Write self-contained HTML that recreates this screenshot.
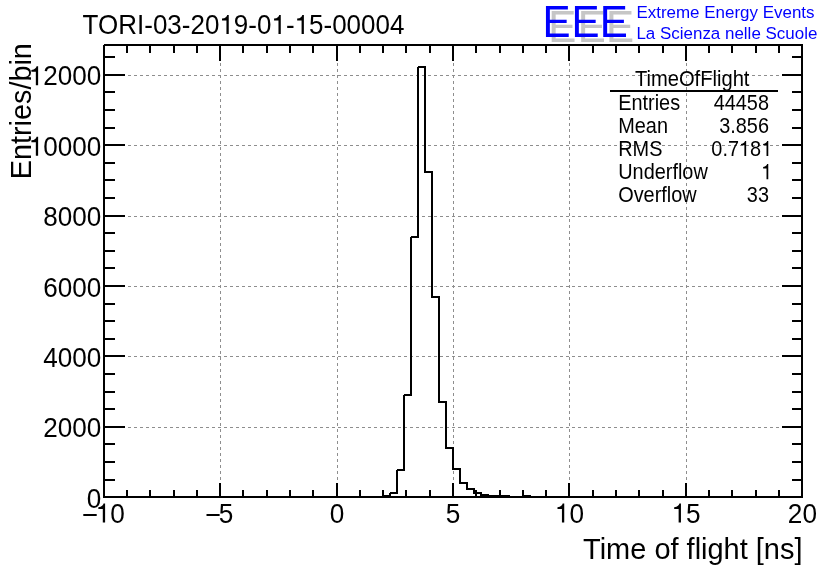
<!DOCTYPE html>
<html><head><meta charset="utf-8"><style>
html,body{margin:0;padding:0;background:#fff;width:836px;height:572px;overflow:hidden}
svg{display:block}
text{font-family:"Liberation Sans",sans-serif}
</style></head><body>
<div style="will-change:transform;width:836px;height:572px"><svg width="836" height="572" viewBox="0 0 836 572">
<path shape-rendering="crispEdges" fill="#8e8e8e" d="M220 45h1v3h-1zM220 51h1v3h-1zM220 57h1v3h-1zM220 63h1v3h-1zM220 69h1v3h-1zM220 75h1v3h-1zM220 81h1v3h-1zM220 87h1v3h-1zM220 93h1v3h-1zM220 99h1v3h-1zM220 105h1v3h-1zM220 111h1v3h-1zM220 117h1v3h-1zM220 123h1v3h-1zM220 129h1v3h-1zM220 135h1v3h-1zM220 141h1v3h-1zM220 147h1v3h-1zM220 153h1v3h-1zM220 159h1v3h-1zM220 165h1v3h-1zM220 171h1v3h-1zM220 177h1v3h-1zM220 183h1v3h-1zM220 189h1v3h-1zM220 195h1v3h-1zM220 201h1v3h-1zM220 207h1v3h-1zM220 213h1v3h-1zM220 219h1v3h-1zM220 225h1v3h-1zM220 231h1v3h-1zM220 237h1v3h-1zM220 243h1v3h-1zM220 249h1v3h-1zM220 255h1v3h-1zM220 261h1v3h-1zM220 267h1v3h-1zM220 273h1v3h-1zM220 279h1v3h-1zM220 285h1v3h-1zM220 291h1v3h-1zM220 297h1v3h-1zM220 303h1v3h-1zM220 309h1v3h-1zM220 315h1v3h-1zM220 321h1v3h-1zM220 327h1v3h-1zM220 333h1v3h-1zM220 339h1v3h-1zM220 345h1v3h-1zM220 351h1v3h-1zM220 357h1v3h-1zM220 363h1v3h-1zM220 369h1v3h-1zM220 375h1v3h-1zM220 381h1v3h-1zM220 387h1v3h-1zM220 393h1v3h-1zM220 399h1v3h-1zM220 405h1v3h-1zM220 411h1v3h-1zM220 417h1v3h-1zM220 423h1v3h-1zM220 429h1v3h-1zM220 435h1v3h-1zM220 441h1v3h-1zM220 447h1v3h-1zM220 453h1v3h-1zM220 459h1v3h-1zM220 465h1v3h-1zM220 471h1v3h-1zM220 477h1v3h-1zM220 483h1v3h-1zM220 489h1v3h-1zM220 495h1v2h-1zM337 45h1v3h-1zM337 51h1v3h-1zM337 57h1v3h-1zM337 63h1v3h-1zM337 69h1v3h-1zM337 75h1v3h-1zM337 81h1v3h-1zM337 87h1v3h-1zM337 93h1v3h-1zM337 99h1v3h-1zM337 105h1v3h-1zM337 111h1v3h-1zM337 117h1v3h-1zM337 123h1v3h-1zM337 129h1v3h-1zM337 135h1v3h-1zM337 141h1v3h-1zM337 147h1v3h-1zM337 153h1v3h-1zM337 159h1v3h-1zM337 165h1v3h-1zM337 171h1v3h-1zM337 177h1v3h-1zM337 183h1v3h-1zM337 189h1v3h-1zM337 195h1v3h-1zM337 201h1v3h-1zM337 207h1v3h-1zM337 213h1v3h-1zM337 219h1v3h-1zM337 225h1v3h-1zM337 231h1v3h-1zM337 237h1v3h-1zM337 243h1v3h-1zM337 249h1v3h-1zM337 255h1v3h-1zM337 261h1v3h-1zM337 267h1v3h-1zM337 273h1v3h-1zM337 279h1v3h-1zM337 285h1v3h-1zM337 291h1v3h-1zM337 297h1v3h-1zM337 303h1v3h-1zM337 309h1v3h-1zM337 315h1v3h-1zM337 321h1v3h-1zM337 327h1v3h-1zM337 333h1v3h-1zM337 339h1v3h-1zM337 345h1v3h-1zM337 351h1v3h-1zM337 357h1v3h-1zM337 363h1v3h-1zM337 369h1v3h-1zM337 375h1v3h-1zM337 381h1v3h-1zM337 387h1v3h-1zM337 393h1v3h-1zM337 399h1v3h-1zM337 405h1v3h-1zM337 411h1v3h-1zM337 417h1v3h-1zM337 423h1v3h-1zM337 429h1v3h-1zM337 435h1v3h-1zM337 441h1v3h-1zM337 447h1v3h-1zM337 453h1v3h-1zM337 459h1v3h-1zM337 465h1v3h-1zM337 471h1v3h-1zM337 477h1v3h-1zM337 483h1v3h-1zM337 489h1v3h-1zM337 495h1v2h-1zM453 45h1v3h-1zM453 51h1v3h-1zM453 57h1v3h-1zM453 63h1v3h-1zM453 69h1v3h-1zM453 75h1v3h-1zM453 81h1v3h-1zM453 87h1v3h-1zM453 93h1v3h-1zM453 99h1v3h-1zM453 105h1v3h-1zM453 111h1v3h-1zM453 117h1v3h-1zM453 123h1v3h-1zM453 129h1v3h-1zM453 135h1v3h-1zM453 141h1v3h-1zM453 147h1v3h-1zM453 153h1v3h-1zM453 159h1v3h-1zM453 165h1v3h-1zM453 171h1v3h-1zM453 177h1v3h-1zM453 183h1v3h-1zM453 189h1v3h-1zM453 195h1v3h-1zM453 201h1v3h-1zM453 207h1v3h-1zM453 213h1v3h-1zM453 219h1v3h-1zM453 225h1v3h-1zM453 231h1v3h-1zM453 237h1v3h-1zM453 243h1v3h-1zM453 249h1v3h-1zM453 255h1v3h-1zM453 261h1v3h-1zM453 267h1v3h-1zM453 273h1v3h-1zM453 279h1v3h-1zM453 285h1v3h-1zM453 291h1v3h-1zM453 297h1v3h-1zM453 303h1v3h-1zM453 309h1v3h-1zM453 315h1v3h-1zM453 321h1v3h-1zM453 327h1v3h-1zM453 333h1v3h-1zM453 339h1v3h-1zM453 345h1v3h-1zM453 351h1v3h-1zM453 357h1v3h-1zM453 363h1v3h-1zM453 369h1v3h-1zM453 375h1v3h-1zM453 381h1v3h-1zM453 387h1v3h-1zM453 393h1v3h-1zM453 399h1v3h-1zM453 405h1v3h-1zM453 411h1v3h-1zM453 417h1v3h-1zM453 423h1v3h-1zM453 429h1v3h-1zM453 435h1v3h-1zM453 441h1v3h-1zM453 447h1v3h-1zM453 453h1v3h-1zM453 459h1v3h-1zM453 465h1v3h-1zM453 471h1v3h-1zM453 477h1v3h-1zM453 483h1v3h-1zM453 489h1v3h-1zM453 495h1v2h-1zM569 45h1v3h-1zM569 51h1v3h-1zM569 57h1v3h-1zM569 63h1v3h-1zM569 69h1v3h-1zM569 75h1v3h-1zM569 81h1v3h-1zM569 87h1v3h-1zM569 93h1v3h-1zM569 99h1v3h-1zM569 105h1v3h-1zM569 111h1v3h-1zM569 117h1v3h-1zM569 123h1v3h-1zM569 129h1v3h-1zM569 135h1v3h-1zM569 141h1v3h-1zM569 147h1v3h-1zM569 153h1v3h-1zM569 159h1v3h-1zM569 165h1v3h-1zM569 171h1v3h-1zM569 177h1v3h-1zM569 183h1v3h-1zM569 189h1v3h-1zM569 195h1v3h-1zM569 201h1v3h-1zM569 207h1v3h-1zM569 213h1v3h-1zM569 219h1v3h-1zM569 225h1v3h-1zM569 231h1v3h-1zM569 237h1v3h-1zM569 243h1v3h-1zM569 249h1v3h-1zM569 255h1v3h-1zM569 261h1v3h-1zM569 267h1v3h-1zM569 273h1v3h-1zM569 279h1v3h-1zM569 285h1v3h-1zM569 291h1v3h-1zM569 297h1v3h-1zM569 303h1v3h-1zM569 309h1v3h-1zM569 315h1v3h-1zM569 321h1v3h-1zM569 327h1v3h-1zM569 333h1v3h-1zM569 339h1v3h-1zM569 345h1v3h-1zM569 351h1v3h-1zM569 357h1v3h-1zM569 363h1v3h-1zM569 369h1v3h-1zM569 375h1v3h-1zM569 381h1v3h-1zM569 387h1v3h-1zM569 393h1v3h-1zM569 399h1v3h-1zM569 405h1v3h-1zM569 411h1v3h-1zM569 417h1v3h-1zM569 423h1v3h-1zM569 429h1v3h-1zM569 435h1v3h-1zM569 441h1v3h-1zM569 447h1v3h-1zM569 453h1v3h-1zM569 459h1v3h-1zM569 465h1v3h-1zM569 471h1v3h-1zM569 477h1v3h-1zM569 483h1v3h-1zM569 489h1v3h-1zM569 495h1v2h-1zM686 45h1v3h-1zM686 51h1v3h-1zM686 57h1v3h-1zM686 63h1v3h-1zM686 69h1v3h-1zM686 75h1v3h-1zM686 81h1v3h-1zM686 87h1v3h-1zM686 93h1v3h-1zM686 99h1v3h-1zM686 105h1v3h-1zM686 111h1v3h-1zM686 117h1v3h-1zM686 123h1v3h-1zM686 129h1v3h-1zM686 135h1v3h-1zM686 141h1v3h-1zM686 147h1v3h-1zM686 153h1v3h-1zM686 159h1v3h-1zM686 165h1v3h-1zM686 171h1v3h-1zM686 177h1v3h-1zM686 183h1v3h-1zM686 189h1v3h-1zM686 195h1v3h-1zM686 201h1v3h-1zM686 207h1v3h-1zM686 213h1v3h-1zM686 219h1v3h-1zM686 225h1v3h-1zM686 231h1v3h-1zM686 237h1v3h-1zM686 243h1v3h-1zM686 249h1v3h-1zM686 255h1v3h-1zM686 261h1v3h-1zM686 267h1v3h-1zM686 273h1v3h-1zM686 279h1v3h-1zM686 285h1v3h-1zM686 291h1v3h-1zM686 297h1v3h-1zM686 303h1v3h-1zM686 309h1v3h-1zM686 315h1v3h-1zM686 321h1v3h-1zM686 327h1v3h-1zM686 333h1v3h-1zM686 339h1v3h-1zM686 345h1v3h-1zM686 351h1v3h-1zM686 357h1v3h-1zM686 363h1v3h-1zM686 369h1v3h-1zM686 375h1v3h-1zM686 381h1v3h-1zM686 387h1v3h-1zM686 393h1v3h-1zM686 399h1v3h-1zM686 405h1v3h-1zM686 411h1v3h-1zM686 417h1v3h-1zM686 423h1v3h-1zM686 429h1v3h-1zM686 435h1v3h-1zM686 441h1v3h-1zM686 447h1v3h-1zM686 453h1v3h-1zM686 459h1v3h-1zM686 465h1v3h-1zM686 471h1v3h-1zM686 477h1v3h-1zM686 483h1v3h-1zM686 489h1v3h-1zM686 495h1v2h-1zM104 427h3v1h-3zM110 427h3v1h-3zM116 427h3v1h-3zM122 427h3v1h-3zM128 427h3v1h-3zM134 427h3v1h-3zM140 427h3v1h-3zM146 427h3v1h-3zM152 427h3v1h-3zM158 427h3v1h-3zM164 427h3v1h-3zM170 427h3v1h-3zM176 427h3v1h-3zM182 427h3v1h-3zM188 427h3v1h-3zM194 427h3v1h-3zM200 427h3v1h-3zM206 427h3v1h-3zM212 427h3v1h-3zM218 427h3v1h-3zM224 427h3v1h-3zM230 427h3v1h-3zM236 427h3v1h-3zM242 427h3v1h-3zM248 427h3v1h-3zM254 427h3v1h-3zM260 427h3v1h-3zM266 427h3v1h-3zM272 427h3v1h-3zM278 427h3v1h-3zM284 427h3v1h-3zM290 427h3v1h-3zM296 427h3v1h-3zM302 427h3v1h-3zM308 427h3v1h-3zM314 427h3v1h-3zM320 427h3v1h-3zM326 427h3v1h-3zM332 427h3v1h-3zM338 427h3v1h-3zM344 427h3v1h-3zM350 427h3v1h-3zM356 427h3v1h-3zM362 427h3v1h-3zM368 427h3v1h-3zM374 427h3v1h-3zM380 427h3v1h-3zM386 427h3v1h-3zM392 427h3v1h-3zM398 427h3v1h-3zM404 427h3v1h-3zM410 427h3v1h-3zM416 427h3v1h-3zM422 427h3v1h-3zM428 427h3v1h-3zM434 427h3v1h-3zM440 427h3v1h-3zM446 427h3v1h-3zM452 427h3v1h-3zM458 427h3v1h-3zM464 427h3v1h-3zM470 427h3v1h-3zM476 427h3v1h-3zM482 427h3v1h-3zM488 427h3v1h-3zM494 427h3v1h-3zM500 427h3v1h-3zM506 427h3v1h-3zM512 427h3v1h-3zM518 427h3v1h-3zM524 427h3v1h-3zM530 427h3v1h-3zM536 427h3v1h-3zM542 427h3v1h-3zM548 427h3v1h-3zM554 427h3v1h-3zM560 427h3v1h-3zM566 427h3v1h-3zM572 427h3v1h-3zM578 427h3v1h-3zM584 427h3v1h-3zM590 427h3v1h-3zM596 427h3v1h-3zM602 427h3v1h-3zM608 427h3v1h-3zM614 427h3v1h-3zM620 427h3v1h-3zM626 427h3v1h-3zM632 427h3v1h-3zM638 427h3v1h-3zM644 427h3v1h-3zM650 427h3v1h-3zM656 427h3v1h-3zM662 427h3v1h-3zM668 427h3v1h-3zM674 427h3v1h-3zM680 427h3v1h-3zM686 427h3v1h-3zM692 427h3v1h-3zM698 427h3v1h-3zM704 427h3v1h-3zM710 427h3v1h-3zM716 427h3v1h-3zM722 427h3v1h-3zM728 427h3v1h-3zM734 427h3v1h-3zM740 427h3v1h-3zM746 427h3v1h-3zM752 427h3v1h-3zM758 427h3v1h-3zM764 427h3v1h-3zM770 427h3v1h-3zM776 427h3v1h-3zM782 427h3v1h-3zM788 427h3v1h-3zM794 427h3v1h-3zM800 427h2v1h-2zM104 356h3v1h-3zM110 356h3v1h-3zM116 356h3v1h-3zM122 356h3v1h-3zM128 356h3v1h-3zM134 356h3v1h-3zM140 356h3v1h-3zM146 356h3v1h-3zM152 356h3v1h-3zM158 356h3v1h-3zM164 356h3v1h-3zM170 356h3v1h-3zM176 356h3v1h-3zM182 356h3v1h-3zM188 356h3v1h-3zM194 356h3v1h-3zM200 356h3v1h-3zM206 356h3v1h-3zM212 356h3v1h-3zM218 356h3v1h-3zM224 356h3v1h-3zM230 356h3v1h-3zM236 356h3v1h-3zM242 356h3v1h-3zM248 356h3v1h-3zM254 356h3v1h-3zM260 356h3v1h-3zM266 356h3v1h-3zM272 356h3v1h-3zM278 356h3v1h-3zM284 356h3v1h-3zM290 356h3v1h-3zM296 356h3v1h-3zM302 356h3v1h-3zM308 356h3v1h-3zM314 356h3v1h-3zM320 356h3v1h-3zM326 356h3v1h-3zM332 356h3v1h-3zM338 356h3v1h-3zM344 356h3v1h-3zM350 356h3v1h-3zM356 356h3v1h-3zM362 356h3v1h-3zM368 356h3v1h-3zM374 356h3v1h-3zM380 356h3v1h-3zM386 356h3v1h-3zM392 356h3v1h-3zM398 356h3v1h-3zM404 356h3v1h-3zM410 356h3v1h-3zM416 356h3v1h-3zM422 356h3v1h-3zM428 356h3v1h-3zM434 356h3v1h-3zM440 356h3v1h-3zM446 356h3v1h-3zM452 356h3v1h-3zM458 356h3v1h-3zM464 356h3v1h-3zM470 356h3v1h-3zM476 356h3v1h-3zM482 356h3v1h-3zM488 356h3v1h-3zM494 356h3v1h-3zM500 356h3v1h-3zM506 356h3v1h-3zM512 356h3v1h-3zM518 356h3v1h-3zM524 356h3v1h-3zM530 356h3v1h-3zM536 356h3v1h-3zM542 356h3v1h-3zM548 356h3v1h-3zM554 356h3v1h-3zM560 356h3v1h-3zM566 356h3v1h-3zM572 356h3v1h-3zM578 356h3v1h-3zM584 356h3v1h-3zM590 356h3v1h-3zM596 356h3v1h-3zM602 356h3v1h-3zM608 356h3v1h-3zM614 356h3v1h-3zM620 356h3v1h-3zM626 356h3v1h-3zM632 356h3v1h-3zM638 356h3v1h-3zM644 356h3v1h-3zM650 356h3v1h-3zM656 356h3v1h-3zM662 356h3v1h-3zM668 356h3v1h-3zM674 356h3v1h-3zM680 356h3v1h-3zM686 356h3v1h-3zM692 356h3v1h-3zM698 356h3v1h-3zM704 356h3v1h-3zM710 356h3v1h-3zM716 356h3v1h-3zM722 356h3v1h-3zM728 356h3v1h-3zM734 356h3v1h-3zM740 356h3v1h-3zM746 356h3v1h-3zM752 356h3v1h-3zM758 356h3v1h-3zM764 356h3v1h-3zM770 356h3v1h-3zM776 356h3v1h-3zM782 356h3v1h-3zM788 356h3v1h-3zM794 356h3v1h-3zM800 356h2v1h-2zM104 286h3v1h-3zM110 286h3v1h-3zM116 286h3v1h-3zM122 286h3v1h-3zM128 286h3v1h-3zM134 286h3v1h-3zM140 286h3v1h-3zM146 286h3v1h-3zM152 286h3v1h-3zM158 286h3v1h-3zM164 286h3v1h-3zM170 286h3v1h-3zM176 286h3v1h-3zM182 286h3v1h-3zM188 286h3v1h-3zM194 286h3v1h-3zM200 286h3v1h-3zM206 286h3v1h-3zM212 286h3v1h-3zM218 286h3v1h-3zM224 286h3v1h-3zM230 286h3v1h-3zM236 286h3v1h-3zM242 286h3v1h-3zM248 286h3v1h-3zM254 286h3v1h-3zM260 286h3v1h-3zM266 286h3v1h-3zM272 286h3v1h-3zM278 286h3v1h-3zM284 286h3v1h-3zM290 286h3v1h-3zM296 286h3v1h-3zM302 286h3v1h-3zM308 286h3v1h-3zM314 286h3v1h-3zM320 286h3v1h-3zM326 286h3v1h-3zM332 286h3v1h-3zM338 286h3v1h-3zM344 286h3v1h-3zM350 286h3v1h-3zM356 286h3v1h-3zM362 286h3v1h-3zM368 286h3v1h-3zM374 286h3v1h-3zM380 286h3v1h-3zM386 286h3v1h-3zM392 286h3v1h-3zM398 286h3v1h-3zM404 286h3v1h-3zM410 286h3v1h-3zM416 286h3v1h-3zM422 286h3v1h-3zM428 286h3v1h-3zM434 286h3v1h-3zM440 286h3v1h-3zM446 286h3v1h-3zM452 286h3v1h-3zM458 286h3v1h-3zM464 286h3v1h-3zM470 286h3v1h-3zM476 286h3v1h-3zM482 286h3v1h-3zM488 286h3v1h-3zM494 286h3v1h-3zM500 286h3v1h-3zM506 286h3v1h-3zM512 286h3v1h-3zM518 286h3v1h-3zM524 286h3v1h-3zM530 286h3v1h-3zM536 286h3v1h-3zM542 286h3v1h-3zM548 286h3v1h-3zM554 286h3v1h-3zM560 286h3v1h-3zM566 286h3v1h-3zM572 286h3v1h-3zM578 286h3v1h-3zM584 286h3v1h-3zM590 286h3v1h-3zM596 286h3v1h-3zM602 286h3v1h-3zM608 286h3v1h-3zM614 286h3v1h-3zM620 286h3v1h-3zM626 286h3v1h-3zM632 286h3v1h-3zM638 286h3v1h-3zM644 286h3v1h-3zM650 286h3v1h-3zM656 286h3v1h-3zM662 286h3v1h-3zM668 286h3v1h-3zM674 286h3v1h-3zM680 286h3v1h-3zM686 286h3v1h-3zM692 286h3v1h-3zM698 286h3v1h-3zM704 286h3v1h-3zM710 286h3v1h-3zM716 286h3v1h-3zM722 286h3v1h-3zM728 286h3v1h-3zM734 286h3v1h-3zM740 286h3v1h-3zM746 286h3v1h-3zM752 286h3v1h-3zM758 286h3v1h-3zM764 286h3v1h-3zM770 286h3v1h-3zM776 286h3v1h-3zM782 286h3v1h-3zM788 286h3v1h-3zM794 286h3v1h-3zM800 286h2v1h-2zM104 216h3v1h-3zM110 216h3v1h-3zM116 216h3v1h-3zM122 216h3v1h-3zM128 216h3v1h-3zM134 216h3v1h-3zM140 216h3v1h-3zM146 216h3v1h-3zM152 216h3v1h-3zM158 216h3v1h-3zM164 216h3v1h-3zM170 216h3v1h-3zM176 216h3v1h-3zM182 216h3v1h-3zM188 216h3v1h-3zM194 216h3v1h-3zM200 216h3v1h-3zM206 216h3v1h-3zM212 216h3v1h-3zM218 216h3v1h-3zM224 216h3v1h-3zM230 216h3v1h-3zM236 216h3v1h-3zM242 216h3v1h-3zM248 216h3v1h-3zM254 216h3v1h-3zM260 216h3v1h-3zM266 216h3v1h-3zM272 216h3v1h-3zM278 216h3v1h-3zM284 216h3v1h-3zM290 216h3v1h-3zM296 216h3v1h-3zM302 216h3v1h-3zM308 216h3v1h-3zM314 216h3v1h-3zM320 216h3v1h-3zM326 216h3v1h-3zM332 216h3v1h-3zM338 216h3v1h-3zM344 216h3v1h-3zM350 216h3v1h-3zM356 216h3v1h-3zM362 216h3v1h-3zM368 216h3v1h-3zM374 216h3v1h-3zM380 216h3v1h-3zM386 216h3v1h-3zM392 216h3v1h-3zM398 216h3v1h-3zM404 216h3v1h-3zM410 216h3v1h-3zM416 216h3v1h-3zM422 216h3v1h-3zM428 216h3v1h-3zM434 216h3v1h-3zM440 216h3v1h-3zM446 216h3v1h-3zM452 216h3v1h-3zM458 216h3v1h-3zM464 216h3v1h-3zM470 216h3v1h-3zM476 216h3v1h-3zM482 216h3v1h-3zM488 216h3v1h-3zM494 216h3v1h-3zM500 216h3v1h-3zM506 216h3v1h-3zM512 216h3v1h-3zM518 216h3v1h-3zM524 216h3v1h-3zM530 216h3v1h-3zM536 216h3v1h-3zM542 216h3v1h-3zM548 216h3v1h-3zM554 216h3v1h-3zM560 216h3v1h-3zM566 216h3v1h-3zM572 216h3v1h-3zM578 216h3v1h-3zM584 216h3v1h-3zM590 216h3v1h-3zM596 216h3v1h-3zM602 216h3v1h-3zM608 216h3v1h-3zM614 216h3v1h-3zM620 216h3v1h-3zM626 216h3v1h-3zM632 216h3v1h-3zM638 216h3v1h-3zM644 216h3v1h-3zM650 216h3v1h-3zM656 216h3v1h-3zM662 216h3v1h-3zM668 216h3v1h-3zM674 216h3v1h-3zM680 216h3v1h-3zM686 216h3v1h-3zM692 216h3v1h-3zM698 216h3v1h-3zM704 216h3v1h-3zM710 216h3v1h-3zM716 216h3v1h-3zM722 216h3v1h-3zM728 216h3v1h-3zM734 216h3v1h-3zM740 216h3v1h-3zM746 216h3v1h-3zM752 216h3v1h-3zM758 216h3v1h-3zM764 216h3v1h-3zM770 216h3v1h-3zM776 216h3v1h-3zM782 216h3v1h-3zM788 216h3v1h-3zM794 216h3v1h-3zM800 216h2v1h-2zM104 145h3v1h-3zM110 145h3v1h-3zM116 145h3v1h-3zM122 145h3v1h-3zM128 145h3v1h-3zM134 145h3v1h-3zM140 145h3v1h-3zM146 145h3v1h-3zM152 145h3v1h-3zM158 145h3v1h-3zM164 145h3v1h-3zM170 145h3v1h-3zM176 145h3v1h-3zM182 145h3v1h-3zM188 145h3v1h-3zM194 145h3v1h-3zM200 145h3v1h-3zM206 145h3v1h-3zM212 145h3v1h-3zM218 145h3v1h-3zM224 145h3v1h-3zM230 145h3v1h-3zM236 145h3v1h-3zM242 145h3v1h-3zM248 145h3v1h-3zM254 145h3v1h-3zM260 145h3v1h-3zM266 145h3v1h-3zM272 145h3v1h-3zM278 145h3v1h-3zM284 145h3v1h-3zM290 145h3v1h-3zM296 145h3v1h-3zM302 145h3v1h-3zM308 145h3v1h-3zM314 145h3v1h-3zM320 145h3v1h-3zM326 145h3v1h-3zM332 145h3v1h-3zM338 145h3v1h-3zM344 145h3v1h-3zM350 145h3v1h-3zM356 145h3v1h-3zM362 145h3v1h-3zM368 145h3v1h-3zM374 145h3v1h-3zM380 145h3v1h-3zM386 145h3v1h-3zM392 145h3v1h-3zM398 145h3v1h-3zM404 145h3v1h-3zM410 145h3v1h-3zM416 145h3v1h-3zM422 145h3v1h-3zM428 145h3v1h-3zM434 145h3v1h-3zM440 145h3v1h-3zM446 145h3v1h-3zM452 145h3v1h-3zM458 145h3v1h-3zM464 145h3v1h-3zM470 145h3v1h-3zM476 145h3v1h-3zM482 145h3v1h-3zM488 145h3v1h-3zM494 145h3v1h-3zM500 145h3v1h-3zM506 145h3v1h-3zM512 145h3v1h-3zM518 145h3v1h-3zM524 145h3v1h-3zM530 145h3v1h-3zM536 145h3v1h-3zM542 145h3v1h-3zM548 145h3v1h-3zM554 145h3v1h-3zM560 145h3v1h-3zM566 145h3v1h-3zM572 145h3v1h-3zM578 145h3v1h-3zM584 145h3v1h-3zM590 145h3v1h-3zM596 145h3v1h-3zM602 145h3v1h-3zM608 145h3v1h-3zM614 145h3v1h-3zM620 145h3v1h-3zM626 145h3v1h-3zM632 145h3v1h-3zM638 145h3v1h-3zM644 145h3v1h-3zM650 145h3v1h-3zM656 145h3v1h-3zM662 145h3v1h-3zM668 145h3v1h-3zM674 145h3v1h-3zM680 145h3v1h-3zM686 145h3v1h-3zM692 145h3v1h-3zM698 145h3v1h-3zM704 145h3v1h-3zM710 145h3v1h-3zM716 145h3v1h-3zM722 145h3v1h-3zM728 145h3v1h-3zM734 145h3v1h-3zM740 145h3v1h-3zM746 145h3v1h-3zM752 145h3v1h-3zM758 145h3v1h-3zM764 145h3v1h-3zM770 145h3v1h-3zM776 145h3v1h-3zM782 145h3v1h-3zM788 145h3v1h-3zM794 145h3v1h-3zM800 145h2v1h-2zM104 75h3v1h-3zM110 75h3v1h-3zM116 75h3v1h-3zM122 75h3v1h-3zM128 75h3v1h-3zM134 75h3v1h-3zM140 75h3v1h-3zM146 75h3v1h-3zM152 75h3v1h-3zM158 75h3v1h-3zM164 75h3v1h-3zM170 75h3v1h-3zM176 75h3v1h-3zM182 75h3v1h-3zM188 75h3v1h-3zM194 75h3v1h-3zM200 75h3v1h-3zM206 75h3v1h-3zM212 75h3v1h-3zM218 75h3v1h-3zM224 75h3v1h-3zM230 75h3v1h-3zM236 75h3v1h-3zM242 75h3v1h-3zM248 75h3v1h-3zM254 75h3v1h-3zM260 75h3v1h-3zM266 75h3v1h-3zM272 75h3v1h-3zM278 75h3v1h-3zM284 75h3v1h-3zM290 75h3v1h-3zM296 75h3v1h-3zM302 75h3v1h-3zM308 75h3v1h-3zM314 75h3v1h-3zM320 75h3v1h-3zM326 75h3v1h-3zM332 75h3v1h-3zM338 75h3v1h-3zM344 75h3v1h-3zM350 75h3v1h-3zM356 75h3v1h-3zM362 75h3v1h-3zM368 75h3v1h-3zM374 75h3v1h-3zM380 75h3v1h-3zM386 75h3v1h-3zM392 75h3v1h-3zM398 75h3v1h-3zM404 75h3v1h-3zM410 75h3v1h-3zM416 75h3v1h-3zM422 75h3v1h-3zM428 75h3v1h-3zM434 75h3v1h-3zM440 75h3v1h-3zM446 75h3v1h-3zM452 75h3v1h-3zM458 75h3v1h-3zM464 75h3v1h-3zM470 75h3v1h-3zM476 75h3v1h-3zM482 75h3v1h-3zM488 75h3v1h-3zM494 75h3v1h-3zM500 75h3v1h-3zM506 75h3v1h-3zM512 75h3v1h-3zM518 75h3v1h-3zM524 75h3v1h-3zM530 75h3v1h-3zM536 75h3v1h-3zM542 75h3v1h-3zM548 75h3v1h-3zM554 75h3v1h-3zM560 75h3v1h-3zM566 75h3v1h-3zM572 75h3v1h-3zM578 75h3v1h-3zM584 75h3v1h-3zM590 75h3v1h-3zM596 75h3v1h-3zM602 75h3v1h-3zM608 75h3v1h-3zM614 75h3v1h-3zM620 75h3v1h-3zM626 75h3v1h-3zM632 75h3v1h-3zM638 75h3v1h-3zM644 75h3v1h-3zM650 75h3v1h-3zM656 75h3v1h-3zM662 75h3v1h-3zM668 75h3v1h-3zM674 75h3v1h-3zM680 75h3v1h-3zM686 75h3v1h-3zM692 75h3v1h-3zM698 75h3v1h-3zM704 75h3v1h-3zM710 75h3v1h-3zM716 75h3v1h-3zM722 75h3v1h-3zM728 75h3v1h-3zM734 75h3v1h-3zM740 75h3v1h-3zM746 75h3v1h-3zM752 75h3v1h-3zM758 75h3v1h-3zM764 75h3v1h-3zM770 75h3v1h-3zM776 75h3v1h-3zM782 75h3v1h-3zM788 75h3v1h-3zM794 75h3v1h-3zM800 75h2v1h-2z"/>
<path shape-rendering="crispEdges" fill="#000" d="M104 44h699v2h-699zM801 45h2v453h-2zM104 496h699v2h-699zM103 45h2v453h-2zM103 483h2v15h-2zM103 45h2v16h-2zM126 490h2v8h-2zM126 45h2v8h-2zM149 490h2v8h-2zM149 45h2v8h-2zM173 490h2v8h-2zM173 45h2v8h-2zM196 490h2v8h-2zM196 45h2v8h-2zM219 483h2v15h-2zM219 45h2v16h-2zM242 490h2v8h-2zM242 45h2v8h-2zM266 490h2v8h-2zM266 45h2v8h-2zM289 490h2v8h-2zM289 45h2v8h-2zM312 490h2v8h-2zM312 45h2v8h-2zM336 483h2v15h-2zM336 45h2v16h-2zM359 490h2v8h-2zM359 45h2v8h-2zM382 490h2v8h-2zM382 45h2v8h-2zM405 490h2v8h-2zM405 45h2v8h-2zM429 490h2v8h-2zM429 45h2v8h-2zM452 483h2v15h-2zM452 45h2v16h-2zM475 490h2v8h-2zM475 45h2v8h-2zM499 490h2v8h-2zM499 45h2v8h-2zM522 490h2v8h-2zM522 45h2v8h-2zM545 490h2v8h-2zM545 45h2v8h-2zM568 483h2v15h-2zM568 45h2v16h-2zM592 490h2v8h-2zM592 45h2v8h-2zM615 490h2v8h-2zM615 45h2v8h-2zM638 490h2v8h-2zM638 45h2v8h-2zM662 490h2v8h-2zM662 45h2v8h-2zM685 483h2v15h-2zM685 45h2v16h-2zM708 490h2v8h-2zM708 45h2v8h-2zM731 490h2v8h-2zM731 45h2v8h-2zM755 490h2v8h-2zM755 45h2v8h-2zM778 490h2v8h-2zM778 45h2v8h-2zM801 483h2v15h-2zM801 45h2v16h-2zM104 496h21v2h-21zM782 496h21v2h-21zM104 479h11v2h-11zM792 479h11v2h-11zM104 461h11v2h-11zM792 461h11v2h-11zM104 443h11v2h-11zM792 443h11v2h-11zM104 426h21v2h-21zM782 426h21v2h-21zM104 408h11v2h-11zM792 408h11v2h-11zM104 391h11v2h-11zM792 391h11v2h-11zM104 373h11v2h-11zM792 373h11v2h-11zM104 355h21v2h-21zM782 355h21v2h-21zM104 338h11v2h-11zM792 338h11v2h-11zM104 320h11v2h-11zM792 320h11v2h-11zM104 303h11v2h-11zM792 303h11v2h-11zM104 285h21v2h-21zM782 285h21v2h-21zM104 267h11v2h-11zM792 267h11v2h-11zM104 250h11v2h-11zM792 250h11v2h-11zM104 232h11v2h-11zM792 232h11v2h-11zM104 215h21v2h-21zM782 215h21v2h-21zM104 197h11v2h-11zM792 197h11v2h-11zM104 179h11v2h-11zM792 179h11v2h-11zM104 162h11v2h-11zM792 162h11v2h-11zM104 144h21v2h-21zM782 144h21v2h-21zM104 127h11v2h-11zM792 127h11v2h-11zM104 109h11v2h-11zM792 109h11v2h-11zM104 91h11v2h-11zM792 91h11v2h-11zM104 74h21v2h-21zM782 74h21v2h-21zM104 56h11v2h-11zM792 56h11v2h-11zM104 496h8v2h-8zM111 496h8v2h-8zM118 496h8v2h-8zM125 496h8v2h-8zM132 496h8v2h-8zM139 496h8v2h-8zM146 496h8v2h-8zM153 496h8v2h-8zM160 496h8v2h-8zM167 496h8v2h-8zM174 496h8v2h-8zM181 496h8v2h-8zM188 496h8v2h-8zM195 496h8v2h-8zM202 496h8v2h-8zM209 496h8v2h-8zM216 496h8v2h-8zM223 496h8v2h-8zM230 496h7v2h-7zM236 496h8v2h-8zM243 496h8v2h-8zM250 496h8v2h-8zM257 496h8v2h-8zM264 496h8v2h-8zM271 496h8v2h-8zM278 496h8v2h-8zM285 496h8v2h-8zM292 496h8v2h-8zM299 496h8v2h-8zM306 496h8v2h-8zM313 496h8v2h-8zM320 496h8v2h-8zM327 496h8v2h-8zM334 496h8v2h-8zM341 496h8v2h-8zM348 496h8v2h-8zM355 496h8v2h-8zM362 496h8v2h-8zM369 496h8v2h-8zM376 496h8v2h-8zM382 496h2v2h-2zM383 495h8v2h-8zM389 493h2v4h-2zM390 492h8v2h-8zM396 470h2v24h-2zM397 469h8v2h-8zM403 395h2v76h-2zM404 394h8v2h-8zM410 237h2v159h-2zM411 236h8v2h-8zM417 67h2v171h-2zM418 66h8v2h-8zM424 67h2v106h-2zM425 171h8v2h-8zM431 172h2v126h-2zM432 296h8v2h-8zM438 297h2v106h-2zM439 401h8v2h-8zM445 402h2v47h-2zM446 447h8v2h-8zM452 448h2v22h-2zM453 468h8v2h-8zM459 469h2v15h-2zM460 482h8v2h-8zM466 483h2v7h-2zM467 488h8v2h-8zM473 489h2v5h-2zM474 492h8v2h-8zM480 493h2v3h-2zM481 494h8v2h-8zM487 495h2v2h-2zM488 495h8v2h-8zM495 495h8v2h-8zM502 495h8v2h-8zM508 496h2v2h-2zM509 496h8v2h-8zM516 496h8v2h-8zM522 496h2v2h-2zM523 495h8v2h-8zM529 496h2v2h-2zM530 496h8v2h-8zM537 496h8v2h-8zM544 496h8v2h-8zM551 496h8v2h-8zM558 496h8v2h-8zM565 496h8v2h-8zM572 496h8v2h-8zM579 496h8v2h-8zM586 496h8v2h-8zM593 496h8v2h-8zM600 496h8v2h-8zM607 496h8v2h-8zM614 496h8v2h-8zM621 496h8v2h-8zM628 496h8v2h-8zM635 496h8v2h-8zM642 496h8v2h-8zM649 496h8v2h-8zM656 496h8v2h-8zM663 496h8v2h-8zM670 496h7v2h-7zM676 496h8v2h-8zM683 496h8v2h-8zM690 496h8v2h-8zM697 496h8v2h-8zM704 496h8v2h-8zM711 496h8v2h-8zM718 496h8v2h-8zM725 496h8v2h-8zM732 496h8v2h-8zM739 496h8v2h-8zM746 496h8v2h-8zM753 496h8v2h-8zM760 496h8v2h-8zM767 496h8v2h-8zM774 496h8v2h-8zM781 496h8v2h-8zM788 496h8v2h-8zM795 496h8v2h-8zM610 90h168v2h-168z"/>
<rect x="83.3" y="514" width="13.4" height="2" fill="#000"/><rect x="206.5" y="514" width="13.1" height="2" fill="#000"/>
<text transform="translate(548.35,41.7) scale(1,1.06)" font-size="42.06" fill="#c6c6c6">E</text>
<text transform="translate(577.65,41.7) scale(1,1.06)" font-size="42.06" fill="#c6c6c6">E</text>
<text transform="translate(606.05,41.7) scale(1,1.06)" font-size="42.06" fill="#c6c6c6">E</text>
<text transform="translate(542.45,37.0) scale(1,1.07)" font-size="42.06" fill="#0000ff">E</text>
<text transform="translate(571.45,37.0) scale(1,1.07)" font-size="42.06" fill="#0000ff">E</text>
<text transform="translate(599.65,37.0) scale(1,1.07)" font-size="42.06" fill="#0000ff">E</text>
<text transform="translate(82.62,33.90) scale(1,1.057)" font-size="26" text-anchor="start" fill="#000">TORI-03-20 9-0 - 5-00004</text>
<text transform="translate(101.30,507.80) scale(1,1.055)" font-size="26.1" text-anchor="end" fill="#000">0</text>
<text transform="translate(101.30,437.38) scale(1,1.055)" font-size="26.1" text-anchor="end" fill="#000">2000</text>
<text transform="translate(101.30,366.96) scale(1,1.055)" font-size="26.1" text-anchor="end" fill="#000">4000</text>
<text transform="translate(101.30,296.54) scale(1,1.055)" font-size="26.1" text-anchor="end" fill="#000">6000</text>
<text transform="translate(101.30,226.12) scale(1,1.055)" font-size="26.1" text-anchor="end" fill="#000">8000</text>
<text transform="translate(101.30,155.70) scale(1,1.055)" font-size="26.1" text-anchor="end" fill="#000"> 0000</text>
<text transform="translate(101.30,85.28) scale(1,1.055)" font-size="26.1" text-anchor="end" fill="#000"> 2000</text>
<text transform="translate(95.70,522.60) scale(1,1.06)" font-size="26.2" text-anchor="start" fill="#000"> 0</text>
<text transform="translate(218.73,522.60) scale(1,1.06)" font-size="26.2" text-anchor="start" fill="#000">5</text>
<text transform="translate(337.10,522.60) scale(1,1.06)" font-size="26.2" text-anchor="middle" fill="#000">0</text>
<text transform="translate(453.10,522.60) scale(1,1.06)" font-size="26.2" text-anchor="middle" fill="#000">5</text>
<text transform="translate(569.40,522.60) scale(1,1.06)" font-size="26.2" text-anchor="middle" fill="#000"> 0</text>
<text transform="translate(686.10,522.60) scale(1,1.06)" font-size="26.2" text-anchor="middle" fill="#000"> 5</text>
<text transform="translate(802.40,522.60) scale(1,1.06)" font-size="26.2" text-anchor="middle" fill="#000">20</text>
<text transform="translate(583.05,558.80) scale(1,1.043)" font-size="28.98" text-anchor="start" fill="#000">Time of flight [ns]</text>
<text transform="translate(30.80,179.16) rotate(-90) scale(1,1.05)" font-size="28.79" text-anchor="start" fill="#000">Entries/bin</text>
<text transform="translate(634.95,86.10) scale(1,1.06)" font-size="20.15" text-anchor="start" fill="#000">TimeOfFlight</text>
<text transform="translate(618.20,109.90) scale(1,1.08)" font-size="19.9" text-anchor="start" fill="#000">Entries</text>
<text transform="translate(769.00,109.90) scale(1,1.1)" font-size="19.9" text-anchor="end" fill="#000">44458</text>
<text transform="translate(618.20,133.00) scale(1,1.08)" font-size="19.9" text-anchor="start" fill="#000">Mean</text>
<text transform="translate(769.00,133.00) scale(1,1.1)" font-size="19.9" text-anchor="end" fill="#000">3.856</text>
<text transform="translate(618.20,156.10) scale(1,1.08)" font-size="19.9" text-anchor="start" fill="#000">RMS</text>
<text transform="translate(772.20,156.10) scale(1,1.1)" font-size="19.9" text-anchor="end" fill="#000">0.7 8 </text>
<text transform="translate(618.20,179.20) scale(1,1.08)" font-size="19.9" text-anchor="start" fill="#000">Underflow</text>
<text transform="translate(772.20,179.20) scale(1,1.1)" font-size="19.9" text-anchor="end" fill="#000"> </text>
<text transform="translate(618.20,202.30) scale(1,1.08)" font-size="19.9" text-anchor="start" fill="#000">Overflow</text>
<text transform="translate(769.00,202.30) scale(1,1.1)" font-size="19.9" text-anchor="end" fill="#000">33</text>
<text transform="translate(636.41,17.60)" font-size="16.97" text-anchor="start" fill="#0000ff">Extreme Energy Events</text>
<text transform="translate(636.41,38.70)" font-size="16.96" text-anchor="start" fill="#0000ff">La Scienza nelle Scuole</text>
<path transform="translate(82.62,33.90) scale(1,1.057) translate(136.782,0) scale(0.02600,-0.02600)" d="M271 0H359V690H300C282 625 238 572 101 557V490H271Z" fill="#000"/>
<path transform="translate(82.62,33.90) scale(1,1.057) translate(188.810,0) scale(0.02600,-0.02600)" d="M271 0H359V690H300C282 625 238 572 101 557V490H271Z" fill="#000"/>
<path transform="translate(82.62,33.90) scale(1,1.057) translate(211.923,0) scale(0.02600,-0.02600)" d="M271 0H359V690H300C282 625 238 572 101 557V490H271Z" fill="#000"/>
<path transform="translate(101.30,155.70) scale(1,1.055) translate(-72.541,0) scale(0.02610,-0.02610)" d="M271 0H359V690H300C282 625 238 572 101 557V490H271Z" fill="#000"/>
<path transform="translate(101.30,85.28) scale(1,1.055) translate(-72.541,0) scale(0.02610,-0.02610)" d="M271 0H359V690H300C282 625 238 572 101 557V490H271Z" fill="#000"/>
<path transform="translate(95.70,522.60) scale(1,1.06) translate(0.000,0) scale(0.02620,-0.02620)" d="M271 0H359V690H300C282 625 238 572 101 557V490H271Z" fill="#000"/>
<path transform="translate(569.40,522.60) scale(1,1.06) translate(-14.565,0) scale(0.02620,-0.02620)" d="M271 0H359V690H300C282 625 238 572 101 557V490H271Z" fill="#000"/>
<path transform="translate(686.10,522.60) scale(1,1.06) translate(-14.565,0) scale(0.02620,-0.02620)" d="M271 0H359V690H300C282 625 238 572 101 557V490H271Z" fill="#000"/>
<path transform="translate(772.20,156.10) scale(1,1.1) translate(-33.192,0) scale(0.01990,-0.01990)" d="M271 0H359V690H300C282 625 238 572 101 557V490H271Z" fill="#000"/>
<path transform="translate(772.20,156.10) scale(1,1.1) translate(-11.074,0) scale(0.01990,-0.01990)" d="M271 0H359V690H300C282 625 238 572 101 557V490H271Z" fill="#000"/>
<path transform="translate(772.20,179.20) scale(1,1.1) translate(-11.074,0) scale(0.01990,-0.01990)" d="M271 0H359V690H300C282 625 238 572 101 557V490H271Z" fill="#000"/>
</svg></div>
</body></html>
